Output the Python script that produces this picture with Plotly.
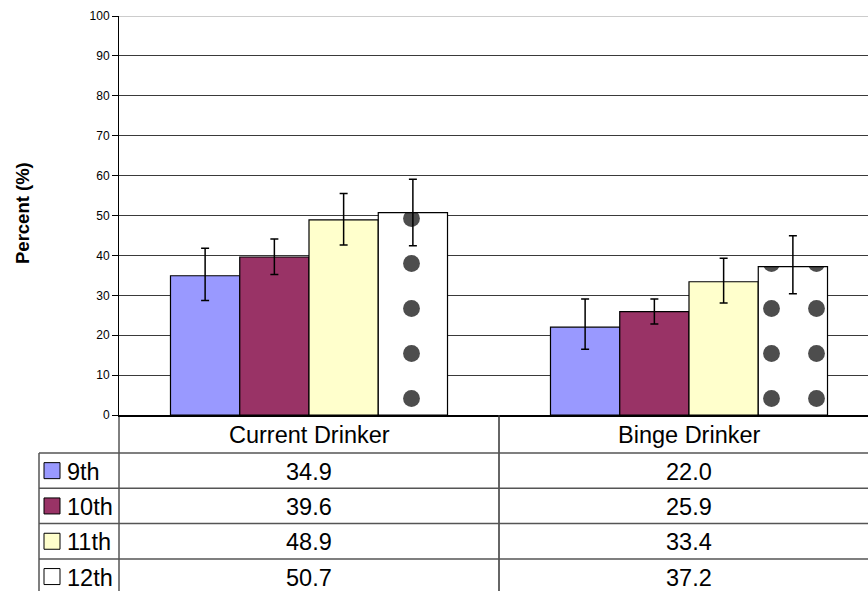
import plotly.graph_objects as go

# ---------------- data ----------------
categories = ["Current Drinker", "Binge Drinker"]
grades = ["9th", "10th", "11th", "12th"]

pct_9th = [34.9, 22.0]
pct_10th = [39.6, 25.9]
pct_11th = [48.9, 33.4]
pct_12th = [50.7, 37.2]

ci_hi_9th = [41.8, 29.1]
ci_lo_9th = [28.7, 16.5]
ci_hi_10th = [44.1, 29.1]
ci_lo_10th = [35.2, 22.8]
ci_hi_11th = [55.5, 39.3]
ci_lo_11th = [42.6, 28.1]
ci_hi_12th = [59.1, 44.9]
ci_lo_12th = [42.4, 30.4]

y_ticks = [0, 10, 20, 30, 40, 50, 60, 70, 80, 90, 100]

# ---------------- styles ----------------
colors = ["#9999FF", "#993366", "#FFFFCC", "#FFFFFF"]
FONT = "Arial, 'Liberation Sans', sans-serif"
TABLE_FONT = 23.5

W, H = 868, 591
L, R, T, B = 119, 0, 16, 176
PW, PH = W - L - R, H - T - B


def px_x(p):
    return (p - L) / PW


def px_y(p):
    return (H - B - p) / PH


series = [
    (pct_9th, ci_hi_9th, ci_lo_9th),
    (pct_10th, ci_hi_10th, ci_lo_10th),
    (pct_11th, ci_hi_11th, ci_lo_11th),
    (pct_12th, ci_hi_12th, ci_lo_12th),
]

fig = go.Figure()
for i, (vals, hi, lo) in enumerate(series):
    marker = dict(color=colors[i], line=dict(color="#000000", width=1.2))
    if i == 3:
        marker["pattern"] = dict(shape=".", fgcolor="#4D4D4D", bgcolor="#FFFFFF",
                                 size=45, solidity=0.11, fillmode="replace")
    fig.add_trace(go.Bar(
        name=grades[i],
        x=list(range(len(categories))),
        y=vals,
        marker=marker,
        error_y=dict(type="data", symmetric=False,
                     array=[h - v for h, v in zip(hi, vals)],
                     arrayminus=[v - l for v, l in zip(vals, lo)],
                     color="#000000", thickness=1.5, width=4),
    ))

fig.update_layout(
    width=W, height=H,
    margin=dict(l=L, r=R, t=T, b=B),
    paper_bgcolor="white", plot_bgcolor="white",
    barmode="group", bargap=0.271, bargroupgap=0,
    showlegend=False,
    font=dict(family=FONT, color="#000000"),
)
fig.update_xaxes(range=[-0.5, -0.5 + PW / 380.0], showticklabels=False,
                 ticks="", showgrid=False, zeroline=False,
                 showline=True, linecolor="#000000", linewidth=2)
fig.update_yaxes(range=[0, 100], tickvals=y_ticks, ticks="outside", ticklen=6,
                 tickcolor="#000000", tickfont=dict(size=12, family=FONT),
                 showgrid=True, gridcolor="#3A3A3A", gridwidth=1,
                 zeroline=False, showline=True, linecolor="#000000", linewidth=1)

shapes = []
# top border at 100 in gray
shapes.append(dict(type="line", xref="paper", yref="y", x0=0, x1=1, y0=100, y1=100,
                   line=dict(color="#999999", width=1)))
# y-axis line continuing through the table
shapes.append(dict(type="line", xref="paper", yref="paper", x0=0, x1=0,
                   y0=0, y1=px_y(H + 5), line=dict(color="#000000", width=1)))
# column divider between categories
shapes.append(dict(type="line", xref="x", yref="paper", x0=0.5, x1=0.5,
                   y0=0, y1=px_y(H + 5), line=dict(color="#333333", width=1.5)))

header_bottom = 453
row_h = 35.3
table_left = 39
# legend column left border
shapes.append(dict(type="line", xref="paper", yref="paper", x0=px_x(table_left), x1=px_x(table_left),
                   y0=px_y(header_bottom), y1=px_y(H + 5), line=dict(color="#555555", width=1.5)))
# horizontal row lines
for r in range(len(grades)):
    yy = header_bottom + r * row_h
    shapes.append(dict(type="line", xref="paper", yref="paper", x0=px_x(table_left), x1=1.02,
                       y0=px_y(yy), y1=px_y(yy), line=dict(color="#555555", width=1.5)))

annotations = []
# header row
for c, cat in enumerate(categories):
    annotations.append(dict(x=c, xref="x", y=px_y((H - B + header_bottom) / 2 + 1), yref="paper",
                            text=cat, showarrow=False, xanchor="center", yanchor="middle",
                            font=dict(size=TABLE_FONT, family=FONT, color="#000000")))
# rows
for r, (vals, _, _) in enumerate(series):
    yc = header_bottom + (r + 0.5) * row_h + 1
    # swatch
    shapes.append(dict(type="rect", xref="paper", yref="paper",
                       x0=px_x(44), x1=px_x(60), y0=px_y(yc - 9), y1=px_y(yc + 7),
                       fillcolor=colors[r], line=dict(color="#000000", width=1)))
    annotations.append(dict(x=px_x(65), xref="paper", y=px_y(yc), yref="paper",
                            text=grades[r], showarrow=False, xanchor="left", yanchor="middle",
                            font=dict(size=TABLE_FONT, family=FONT, color="#000000")))
    for c in range(len(categories)):
        annotations.append(dict(x=c, xref="x", y=px_y(yc), yref="paper",
                                text=f"{vals[c]:.1f}", showarrow=False,
                                xanchor="center", yanchor="middle",
                                font=dict(size=TABLE_FONT, family=FONT, color="#000000")))

# y axis title
annotations.append(dict(x=px_x(22), xref="paper", y=px_y(213), yref="paper",
                        text="<b>Percent (%)</b>", textangle=-90, showarrow=False,
                        xanchor="center", yanchor="middle",
                        font=dict(size=18.5, family=FONT, color="#000000")))

fig.update_layout(shapes=shapes, annotations=annotations)
fig.write_html("out.html", config={"displayModeBar": False},
               post_script="document.body.style.margin='0';document.body.style.overflow='hidden';")
